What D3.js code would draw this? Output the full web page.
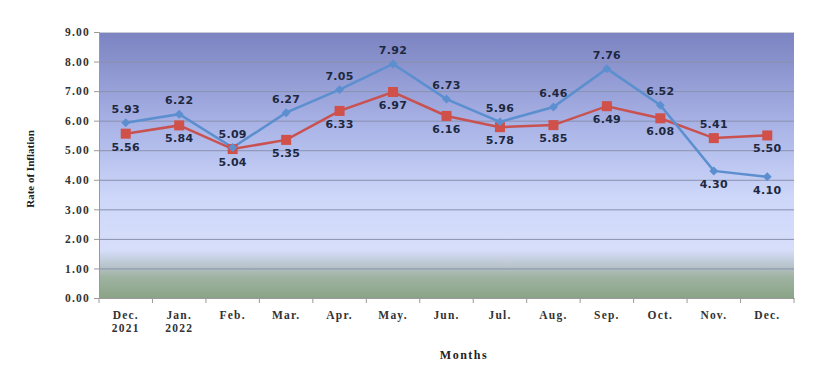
<!DOCTYPE html>
<html><head><meta charset="utf-8">
<script src="https://cdn.jsdelivr.net/npm/d3@7/dist/d3.min.js"></script>
<style>body{margin:0;background:#fff;} svg{display:block;}</style>
</head><body>
<svg id="c" width="825" height="366"></svg>
<script>
const categories = [["Dec.","2021"],["Jan.","2022"],["Feb."],["Mar."],["Apr."],["May."],["Jun."],["Jul."],["Aug."],["Sep."],["Oct."],["Nov."],["Dec."]];
const seriesA = [5.93,6.22,5.09,6.27,7.05,7.92,6.73,5.96,6.46,7.76,6.52,4.30,4.10];
const seriesB = [5.56,5.84,5.04,5.35,6.33,6.97,6.16,5.78,5.85,6.49,6.08,5.41,5.50];
const labelPosA = ["above","above","above","above","above","above","above","above","above","above","above","below","below"];
const labelPosB = ["below","below","below","below","below","below","below","below","below","below","below","above","below"];
const yTicks = [0,1,2,3,4,5,6,7,8,9];

const svg = d3.select("#c");
const L=99, R=794, T=32, B=298;
const x = d3.scaleBand().domain(d3.range(categories.length)).range([L,R]);
const y = d3.scaleLinear().domain([0,9]).range([B,T]);

const defs = svg.append("defs");
const g = defs.append("linearGradient").attr("id","bg").attr("x1",0).attr("y1",0).attr("x2",0).attr("y2",1);
[[0,"#7b83c1"],[0.35,"#a9b3e6"],[0.62,"#cdd7f9"],[0.82,"#d6defa"],[0.88,"#b8c4cc"],[0.92,"#9fb3a2"],[1,"#8aa486"]].forEach(s=>g.append("stop").attr("offset",s[0]).attr("stop-color",s[1]));
svg.append("rect").attr("x",L).attr("y",T).attr("width",R-L).attr("height",B-T).attr("fill","url(#bg)");

svg.append("g").selectAll("line").data(yTicks.filter(d=>d>0)).join("line")
  .attr("x1",L).attr("x2",R).attr("y1",d=>y(d)+0.5).attr("y2",d=>y(d)+0.5)
  .attr("stroke","#8990ad").attr("stroke-width",1);
svg.append("line").attr("x1",L).attr("x2",R).attr("y1",T+0.5).attr("y2",T+0.5).attr("stroke","#c8cbd6");

const serif = "Liberation Serif";
const ya = svg.append("g").attr("transform",`translate(${L},0)`).call(d3.axisLeft(y).tickValues(yTicks).tickFormat(d3.format(".2f")).tickSize(5).tickPadding(4));
ya.select(".domain").attr("stroke","#9a9a9a");
ya.selectAll(".tick line").attr("stroke","#9a9a9a");
ya.selectAll("text").attr("font-family",serif).attr("font-weight","bold").attr("font-size","11.5px").attr("letter-spacing","1.2px").attr("fill","#333");

const xa = svg.append("g").attr("transform",`translate(0,${B})`).call(d3.axisBottom(x).tickSize(0).tickFormat(""));
xa.select(".domain").attr("stroke","#9a9a9a");
svg.append("g").selectAll("line").data(d3.range(categories.length+1)).join("line")
  .attr("x1",i=>L+i*x.step()).attr("x2",i=>L+i*x.step()).attr("y1",B).attr("y2",B+5).attr("stroke","#9a9a9a");
const xl = svg.append("g").selectAll("text").data(categories).join("text")
  .attr("x",(d,i)=>x(i)+x.bandwidth()/2).attr("y",319)
  .attr("text-anchor","middle").attr("font-family",serif).attr("font-weight","bold").attr("font-size","11.5px").attr("letter-spacing","1.2px").attr("fill","#333");
xl.selectAll("tspan").data(d=>d).join("tspan").attr("x",function(){return this.parentNode.getAttribute("x");}).attr("dy",(d,i)=>i?13:0).text(d=>d);

svg.append("text").attr("x",464).attr("y",359).attr("text-anchor","middle").attr("font-family",serif).attr("font-weight","bold").attr("font-size","12px").attr("letter-spacing","1.5px").attr("fill","#222").text("Months");
svg.append("text").attr("transform","translate(34,169) rotate(-90)").attr("text-anchor","middle").attr("font-family",serif).attr("font-weight","bold").attr("font-size","11px").attr("fill","#222").text("Rate of Inflation");

const cx = i=>x(i)+x.bandwidth()/2;
const line = d3.line().x((d,i)=>cx(i)).y(d=>y(d));
svg.append("path").datum(seriesB).attr("d",line).attr("fill","none").attr("stroke","#c9514f").attr("stroke-width",2.5);
svg.append("path").datum(seriesA).attr("d",line).attr("fill","none").attr("stroke","#5b8fcf").attr("stroke-width",2.5);

svg.append("g").selectAll("rect").data(seriesB).join("rect")
  .attr("x",(d,i)=>cx(i)-5).attr("y",d=>y(d)-5).attr("width",10).attr("height",10).attr("fill","#d0504a");
svg.append("g").selectAll("path").data(seriesA).join("path")
  .attr("d",d3.symbol(d3.symbolSquare,40)).attr("transform",(d,i)=>`translate(${cx(i)},${y(d)}) rotate(45)`).attr("fill","#5b8fcf");

function labels(data,pos){
  svg.append("g").selectAll("text").data(data).join("text")
    .attr("x",(d,i)=>cx(i)).attr("y",(d,i)=>y(d)+(pos[i]==="above"?-10:17))
    .attr("text-anchor","middle").attr("font-family","DejaVu Sans").attr("font-weight","bold").attr("font-size","11px").attr("letter-spacing","0.3px").attr("fill","#1d2840")
    .text(d=>d.toFixed(2));
}
labels(seriesA,labelPosA);
labels(seriesB,labelPosB);
</script>
</body></html>
